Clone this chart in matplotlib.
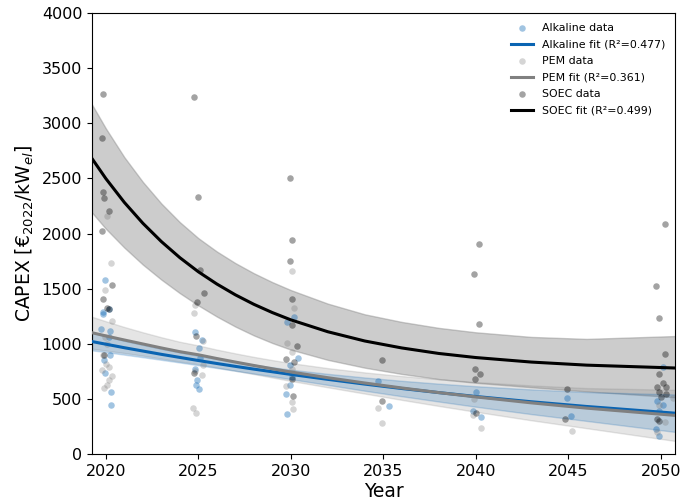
import matplotlib
matplotlib.use("Agg")
import matplotlib.pyplot as plt
import numpy as np

# ---------------- data ----------------
alk_year = [2019.96, 2020.15, 2019.85, 2019.82, 2019.75, 2020.23, 2020.16, 2019.89, 2020.23, 2019.96, 2020.27, 2020.28,
            2024.84, 2025.20, 2025.05, 2025.08, 2024.84, 2024.91, 2024.88, 2025.02,
            2030.20, 2029.80, 2030.39, 2029.96, 2030.07, 2029.93, 2029.72, 2029.80,
            2034.73, 2035.31,
            2040.02, 2039.84, 2040.28,
            2044.95, 2045.16,
            2050.15, 2049.78, 2050.15, 2049.93, 2049.75, 2049.93]
alk_capex = [1580, 1318, 1288, 1267, 1136, 1112, 1060, 850, 900, 733, 561, 448,
             1106, 1030, 961, 870, 773, 667, 627, 591,
             1242, 1197, 870, 803, 700, 627, 545, 364,
             661, 439,
             561, 394, 333,
             506, 342,
             788, 485, 448, 394, 227, 167]

pem_year = [2020.05, 2020.28, 2019.96, 2020.32, 2019.96, 2020.05, 2019.85, 2020.00, 2020.15, 2019.78, 2020.32, 2020.15, 2020.05, 2019.88,
            2024.80, 2024.75, 2025.23, 2025.27, 2024.84, 2025.20, 2024.73, 2024.88,
            2030.04, 2030.16, 2029.80, 2030.07, 2030.07, 2029.75, 2030.04, 2030.11,
            2034.73, 2034.91,
            2039.89, 2039.84, 2040.28,
            2045.18,
            2050.65, 2049.93, 2050.23, 2049.78]
pem_capex = [2157, 1733, 1485, 1203, 1061, 1000, 900, 818, 790, 760, 712, 673, 624, 597,
             1355, 1279, 1021, 809, 750, 718, 415, 370,
             1658, 1327, 1009, 924, 770, 621, 470, 409,
             421, 282,
             500, 355, 233,
             212,
             509, 448, 294, 200]

soec_year = [2019.85, 2019.77, 2019.82, 2019.88, 2020.16, 2019.77, 2020.32, 2019.82, 2020.04, 2020.16, 2019.91,
             2024.78, 2025.00, 2025.09, 2025.32, 2024.92, 2024.88, 2024.78,
             2029.98, 2030.04, 2029.93, 2030.04, 2030.07, 2030.34, 2029.75, 2030.16, 2030.07, 2030.11,
             2034.91, 2034.91,
             2040.16, 2039.93, 2040.20, 2039.96, 2040.23, 2039.96, 2040.02,
             2044.91, 2044.82,
             2050.23, 2049.75, 2049.93, 2050.23, 2049.93, 2050.15, 2049.82, 2050.27, 2049.93, 2050.27, 2050.04, 2049.78, 2049.93]
soec_capex = [3266, 2864, 2373, 2324, 2206, 2021, 1530, 1403, 1324, 1318, 894,
              3242, 2333, 1667, 1461, 1379, 1070, 736,
              2500, 1945, 1748, 1403, 1173, 976, 864, 833, 682, 530,
              855, 479,
              1906, 1636, 1179, 767, 727, 682, 373,
              591, 318,
              2082, 1524, 1236, 903, 727, 642, 612, 612, 561, 545, 515, 318, 297]

fit_year = [2019.25, 2020, 2021, 2022, 2023, 2024, 2025, 2026, 2027, 2028, 2029, 2030,
            2032, 2034, 2036, 2038, 2040, 2043, 2046, 2050.8]

alk_fit = [1020, 996, 964, 934, 904, 876, 848, 821, 795, 770, 746, 722, 677, 634, 594, 557, 522, 474, 431, 370]
alk_hi = [1100, 1068, 1027, 990, 954, 922, 891, 862, 835, 810, 787, 765, 727, 694, 664, 638, 615, 586, 562, 540]
alk_lo = [940, 924, 901, 878, 854, 830, 805, 780, 755, 730, 705, 679, 627, 574, 524, 476, 429, 362, 300, 200]

pem_fit = [1100, 1071, 1034, 998, 962, 928, 900, 866, 834, 803, 773, 744, 692, 644, 599, 557, 518, 464, 416, 350]
pem_hi = [1245, 1204, 1152, 1104, 1059, 1018, 985, 947, 913, 881, 852, 825, 779, 740, 707, 678, 653, 622, 598, 582]
pem_lo = [955, 938, 916, 892, 865, 838, 815, 785, 755, 725, 694, 663, 605, 548, 491, 436, 383, 306, 234, 118]

soec_fit = [2680, 2498, 2282, 2093, 1927, 1781, 1653, 1542, 1444, 1358, 1283, 1217, 1109, 1025, 962, 912, 875, 834, 806, 780]
soec_hi = [3170, 2953, 2692, 2468, 2272, 2103, 1958, 1837, 1732, 1640, 1559, 1487, 1364, 1267, 1198, 1144, 1104, 1062, 1044, 1070]
soec_lo = [2190, 2043, 1872, 1718, 1582, 1459, 1348, 1247, 1156, 1076, 1007, 947, 854, 783, 726, 680, 646, 606, 568, 515]

r2 = {"Alkaline": 0.477, "PEM": 0.361, "SOEC": 0.499}
x_ticks = [2020, 2025, 2030, 2035, 2040, 2045, 2050]
y_ticks = [0, 500, 1000, 1500, 2000, 2500, 3000, 3500, 4000]

# ---------------- plot ----------------
blue = "#0a64b2"
fig = plt.figure(figsize=(6.84, 5.04), dpi=100)
ax = fig.add_axes([0.1345, 0.0992, 0.853, 0.875])

ax.fill_between(fit_year, soec_lo, soec_hi, color="gray", alpha=0.4, zorder=1)
ax.fill_between(fit_year, pem_lo, pem_hi, color="gray", alpha=0.2, zorder=1)
ax.fill_between(fit_year, alk_lo, alk_hi, color=blue, alpha=0.2, zorder=1)

ax.scatter(alk_year, alk_capex, s=22, color=blue, alpha=0.38, linewidths=0, zorder=2, label="Alkaline data")
ax.plot(fit_year, alk_fit, color=blue, lw=2.2, zorder=3, label=f"Alkaline fit (R²={r2['Alkaline']:.3f})")
ax.scatter(pem_year, pem_capex, s=22, color="gray", alpha=0.33, linewidths=0, zorder=2, label="PEM data")
ax.plot(fit_year, pem_fit, color="gray", lw=2.2, zorder=3, label=f"PEM fit (R²={r2['PEM']:.3f})")
ax.scatter(soec_year, soec_capex, s=22, color="black", alpha=0.36, linewidths=0, zorder=2, label="SOEC data")
ax.plot(fit_year, soec_fit, color="black", lw=2.2, zorder=3, label=f"SOEC fit (R²={r2['SOEC']:.3f})")

ax.set_xlim(2019.25, 2050.8)
ax.set_ylim(0, 4000)
ax.set_xticks(x_ticks)
ax.set_yticks(y_ticks)
ax.tick_params(labelsize=11.5)
ax.set_xlabel("Year", fontsize=13.5, labelpad=2)
ax.set_ylabel(r"CAPEX [€$_{2022}$/kW$_{el}$]", fontsize=13.5)

ax.legend(loc="upper right", fontsize=7.9, frameon=False, labelspacing=0.6)

fig.savefig("out.png", dpi=100)
